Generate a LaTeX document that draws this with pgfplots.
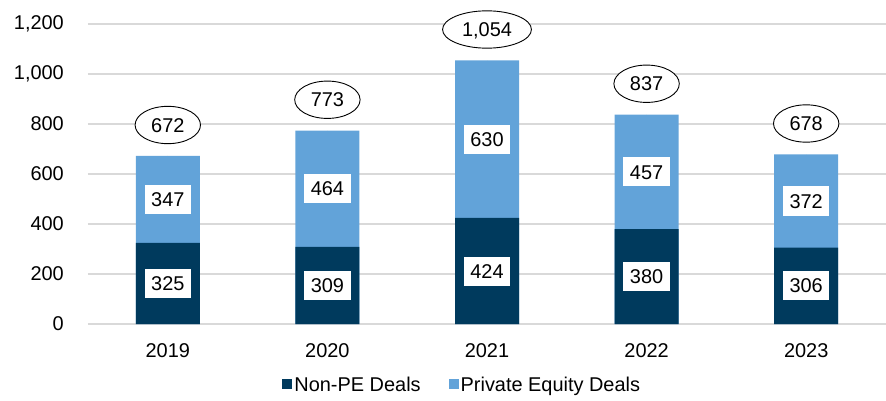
\documentclass[border=0pt]{standalone}
\usepackage{pgfplots}
\pgfplotsset{compat=1.18}
\usepackage{pgfplotstable}
\usepackage{fontspec}
\setmainfont{Liberation Sans}
\usetikzlibrary{shapes.geometric}
\definecolor{navy}{HTML}{003A5D}
\definecolor{lightb}{HTML}{62A3D9}
\definecolor{gridg}{HTML}{D9D9D9}
\pgfplotstableread{
x nonpe pe total
0 325 347 672
1 309 464 773
2 424 630 1054
3 380 457 837
4 306 372 678
}\datatable
\begin{document}
\begin{tikzpicture}
\begin{axis}[
  at={(0,0)}, anchor=south west,
  scale only axis, width=798bp, height=300bp,
  xmin=-0.5, xmax=4.5, ymin=0, ymax=1200,
  xtick=data, xticklabels={2019,2020,2021,2022,2023},
  ytick={0,200,...,1200},
  /pgf/number format/assume math mode=true,
  /pgf/number format/1000 sep={,},
  major tick length=0pt,
  axis line style={draw=none},
  ymajorgrids, grid style={gridg, line width=1.3bp},
  tick label style={font=\fontsize{20}{24}\selectfont},
  yticklabel style={inner sep=0pt, anchor=east, xshift=-24bp},
  xticklabel style={inner sep=0pt, anchor=north, yshift=-19bp},
  legend columns=2,
  legend style={draw=none, fill=none, at={(0.469,-0.203)}, anchor=center,
    font=\fontsize{20}{24}\selectfont, inner sep=0pt,
    /tikz/every even column/.append style={column sep=26bp}},
  legend cell align=left,
  legend image code/.code={\fill[#1] (0bp,-4.5bp) rectangle (10bp,5.5bp);},
  reverse legend,
]
\addplot[ybar, bar width=64bp, bar shift=0pt, fill=lightb, draw=none] table[x=x, y=total] {\datatable};
\addlegendentry{Private Equity Deals}
\addplot[ybar, bar width=64bp, bar shift=0pt, fill=navy, draw=none] table[x=x, y=nonpe] {\datatable};
\addlegendentry{Non-PE Deals}
% segment labels
\addplot[forget plot, only marks, mark=*, mark size=0pt, mark options={draw=none, fill=none},
  nodes near coords, point meta=explicit symbolic,
  nodes near coords align={anchor=center},
  every node near coord/.style={anchor=center, fill=white, text=black, inner xsep=6.5bp, inner ysep=0pt,
    text height=14.4bp, text depth=0pt, minimum height=29bp, font=\fontsize{20}{24}\selectfont}]
  table[x=x, y expr=\thisrow{nonpe}/2, meta=nonpe] {\datatable};
\addplot[forget plot, only marks, mark=*, mark size=0pt, mark options={draw=none, fill=none},
  nodes near coords, point meta=explicit symbolic,
  nodes near coords align={anchor=center},
  every node near coord/.style={anchor=center, fill=white, text=black, inner xsep=6.5bp, inner ysep=0pt,
    text height=14.4bp, text depth=0pt, minimum height=29bp, font=\fontsize{20}{24}\selectfont}]
  table[x=x, y expr=\thisrow{nonpe}+\thisrow{pe}/2, meta=pe] {\datatable};
% totals
\addplot[forget plot, only marks, mark=*, mark size=0pt, mark options={draw=none, fill=none},
  nodes near coords={\pgfmathprintnumber[assume math mode=true,1000 sep={,}]{\pgfplotspointmeta}},
  point meta=explicit,
  nodes near coords align={anchor=center},
  every node near coord/.style={anchor=center, yshift=31bp, ellipse, draw=black, line width=0.9bp, fill=white, text=black,
    inner xsep=6.5bp, inner ysep=6bp, text height=14.4bp, text depth=0pt, font=\fontsize{20}{24}\selectfont}]
  table[x=x, y=total, meta=total] {\datatable};
\end{axis}
\pgfresetboundingbox
\path (-88bp,-77bp) rectangle (798bp,324bp);
\end{tikzpicture}
\end{document}
